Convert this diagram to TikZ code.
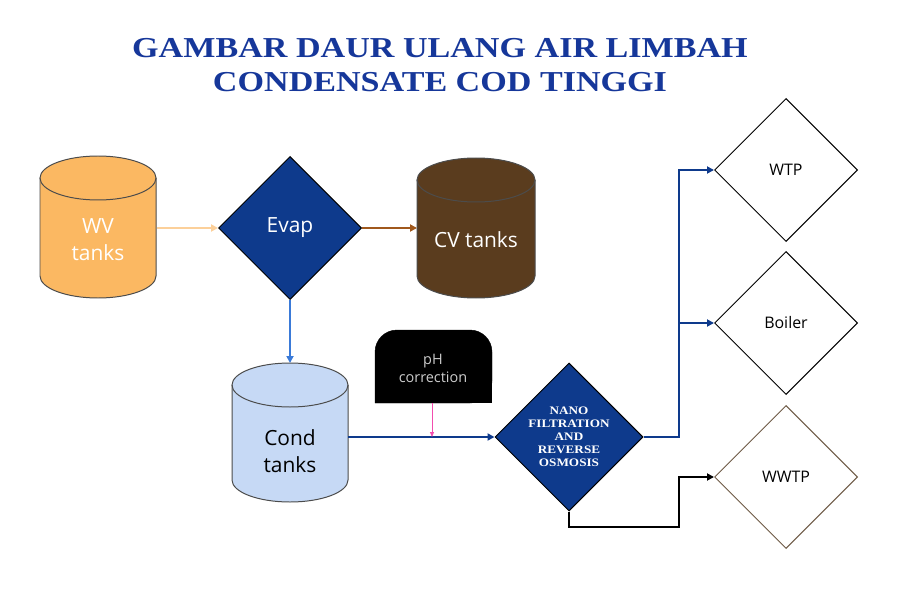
\documentclass[tikz,border=0pt]{standalone}
\usepackage{fontspec}
\setmainfont{Liberation Serif}
\newfontfamily\sansf{Open Sans}
\usetikzlibrary{shapes.geometric,arrows.meta}
\definecolor{ttl}{HTML}{16379A}
\definecolor{dblue}{HTML}{0E3A8C}
\definecolor{wvc}{RGB}{251,184,98}
\definecolor{cvc}{RGB}{90,60,30}
\definecolor{cdc}{RGB}{198,217,245}
\definecolor{ar1}{RGB}{252,208,154}
\definecolor{ar2}{RGB}{160,88,28}
\definecolor{ar3}{RGB}{58,122,216}
\definecolor{wwc}{RGB}{110,90,70}
\newcommand\mycyl[6]{%
  \fill[#6] (#1-#4,#2) -- (#1-#4,#3) arc[start angle=180,end angle=0,x radius=#4,y radius=#5] -- (#1+#4,#2) arc[start angle=0,end angle=-180,x radius=#4,y radius=#5];
  \draw[black!70,line width=1pt] (#1-#4,#2) -- (#1-#4,#3) arc[start angle=180,end angle=0,x radius=#4,y radius=#5] -- (#1+#4,#2);
  \draw[black!70,line width=1pt] (#1,#2) ellipse[x radius=#4,y radius=#5];}
\begin{document}
\begin{tikzpicture}[x=1bp,y=-1bp,
  dia/.style={diamond,draw,minimum width=#1,minimum height=#1,inner sep=0pt,line width=1pt,aspect=1},
  lbl/.style={font=\sansf\fontsize{21}{27}\selectfont,align=center},
  sl/.style={font=\sansf\fontsize{16}{19}\selectfont},
  ar/.style={-{Triangle[length=7bp,width=7bp]},line width=2pt}]
\useasboundingbox[fill=white] (0,0) rectangle (900,600);
\node[font=\bfseries\fontsize{29}{34}\selectfont,text=ttl,align=center,xscale=1.18,transform shape] (t) at (440,65) {GAMBAR DAUR ULANG AIR LIMBAH\\CONDENSATE COD TINGGI};
\mycyl{98}{178}{276}{58}{22}{wvc}
\node[lbl,text=white] (wvt) at (98,240) {WV\\tanks};
\node[dia=143bp,fill=dblue,draw=black] (ev) at (290,228) {};
\node[lbl,text=white] (evt) at (290,228) {Evap};
\mycyl{476}{180}{276}{59}{22}{cvc}
\node[lbl,text=white] (cvt) at (476,240) {CV tanks};
\mycyl{290}{385}{480}{58}{22}{cdc}
\node[lbl,text=black] (cdt) at (290,451) {Cond\\tanks};
\coordinate (cdn) at (290,363);
\coordinate (cde) at (348,437);
\coordinate (wve) at (157,228);
\coordinate (cvw) at (417,228);
\draw[fill=black,rounded corners=22bp] (375,403) -- (375,330) -- (492,330) -- (492,403) [sharp corners] -- cycle;
\fill (375,380) rectangle (492,403);
\node[font=\sansf\fontsize{14.5}{18}\selectfont,text=black!20,align=center] (ph) at (433,368) {pH\\correction};
\coordinate (phb) at (432,403);
\coordinate (php) at (432,437);
\node[dia=148bp,fill=dblue,draw=black] (nf) at (569,437) {};
\node[font=\bfseries\fontsize{11.5}{13}\selectfont,text=white,align=center,xscale=1.15,transform shape] (nft) at (569,437) {NANO\\FILTRATION\\AND\\REVERSE\\OSMOSIS};
\node[dia=143bp,fill=white] (wtp) at (786,170) {};
\node[sl] at (786,170) {WTP};
\node[dia=143bp,fill=white] (bo) at (786,323) {};
\node[sl] at (786,323) {Boiler};
\node[dia=143bp,fill=white,draw=wwc] (ww) at (786,477) {};
\node[sl] at (786,477) {WWTP};
\draw[ar,ar1] (wve) -- (ev.west);
\draw[ar,ar2] (ev.east) -- (cvw);
\draw[ar,ar3] (ev.south) -- (cdn);
\draw[ar,dblue] (cde) -- (nf.west);
\draw[-{Triangle[length=5bp,width=4bp]},line width=0.8pt,magenta!70] (phb) -- (php);
\draw[ar,dblue] (nf.east) -- (679,437) -- (679,170) -- (wtp.west);
\draw[ar,dblue] (679,323) -- (bo.west);
\draw[ar,black] (nf.south) -- (569,527) -- (679,527) -- (679,477) -- (ww.west);
\end{tikzpicture}
\end{document}
